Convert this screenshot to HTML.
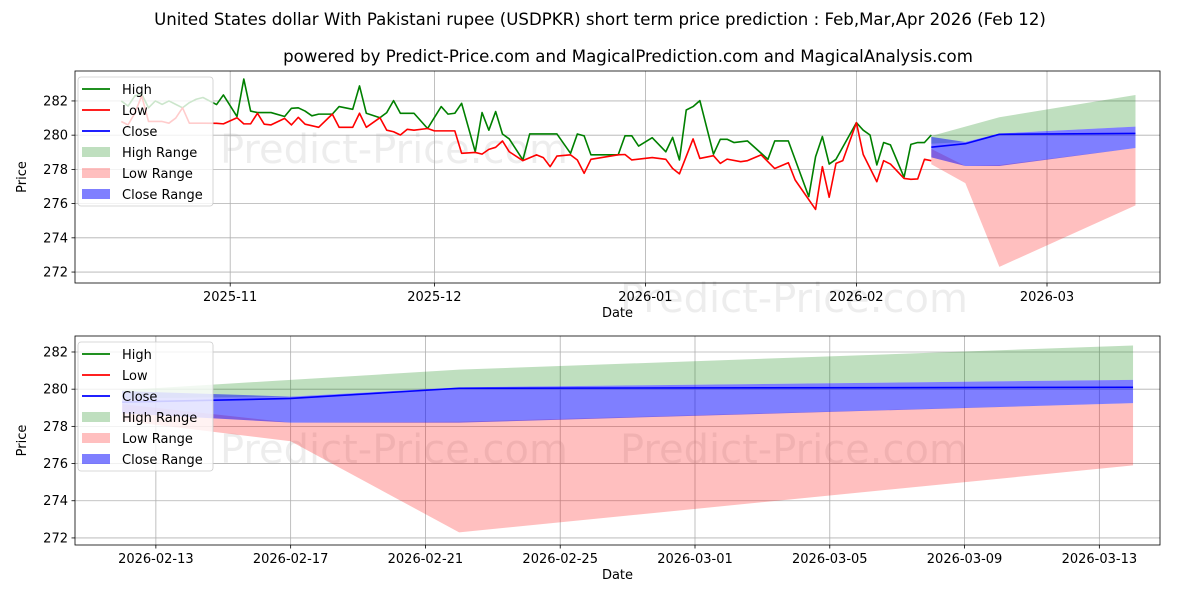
<!DOCTYPE html>
<html><head><meta charset="utf-8">
<style>
body{margin:0;background:#fff;}
svg{display:block;font-family:"DejaVu Sans","Liberation Sans",sans-serif;}
</style></head>
<body>
<svg id="chart" width="1200" height="600" viewBox="0 0 1200 600"></svg>
<script>
// Top-level data (days offset from 2025-11-01)
const highDays=[-16,-15,-14,-13,-12,-11,-10,-9,-8,-7,-6,-5,-4,-2,-1,1,2,3,4,6,8,9,10,11,12,13,15,16,18,19,20,22,23,24,25,27,29,31,32,33,34,36,37,38,39,40,41,43,44,48,50,51,52,53,57,58,59,60,62,64,65,66,67,68,69,71,72,73,74,76,79,80,82,85,86,87,88,89,92,93,94,95,96,97,99,100,101,102,103];
const highVals=[282.0,281.7,282.3,282.4,281.6,282.0,281.8,282.0,281.8,281.6,281.9,282.1,282.2,281.79,282.35,281.09,283.28,281.41,281.32,281.32,281.09,281.57,281.6,281.41,281.13,281.23,281.23,281.67,281.51,282.88,281.28,281.02,281.32,282.02,281.28,281.28,280.39,281.67,281.23,281.28,281.86,279.03,281.32,280.29,281.38,280.07,279.78,278.55,280.07,280.07,278.94,280.07,279.96,278.85,278.85,279.96,279.96,279.36,279.85,279.03,279.87,278.55,281.47,281.67,282.02,278.89,279.76,279.76,279.57,279.66,278.59,279.66,279.66,276.41,278.74,279.92,278.31,278.59,280.73,280.29,280.01,278.26,279.57,279.43,277.54,279.46,279.57,279.57,280.01];
const lowDays=[-16,-15,-14,-13,-12,-11,-10,-9,-8,-7,-6,-5,-4,-2,-1,1,2,3,4,5,6,8,9,10,11,13,15,16,18,19,20,22,23,24,25,26,27,29,30,33,34,36,37,38,39,40,41,43,45,46,47,48,50,51,52,53,57,58,59,62,64,65,66,68,69,71,72,73,75,76,78,80,82,83,86,87,88,89,90,92,93,95,96,97,99,100,101,102,103];
const lowVals=[280.8,280.6,281.3,282.3,280.8,280.8,280.8,280.7,281.0,281.6,280.7,280.7,280.7,280.69,280.66,281.02,280.66,280.66,281.28,280.64,280.6,280.98,280.6,281.04,280.64,280.46,281.23,280.46,280.46,281.28,280.46,281.02,280.29,280.2,280.01,280.34,280.29,280.39,280.25,280.25,278.94,278.99,278.89,279.17,279.29,279.66,279.03,278.51,278.85,278.69,278.16,278.78,278.85,278.55,277.77,278.59,278.85,278.87,278.55,278.69,278.59,278.05,277.74,279.78,278.64,278.8,278.35,278.6,278.45,278.51,278.85,278.05,278.39,277.38,275.66,278.16,276.37,278.35,278.51,280.73,278.87,277.28,278.51,278.31,277.47,277.42,277.44,278.59,278.51];
// Forecast (days offset: Feb12, Feb17, Feb22, Mar14)
const fcDays=[103,108,113,133];
const fcClose=[279.3,279.5,280.05,280.1];
const fcHighTop=[279.95,280.5,281.05,282.35];
const fcHighBot=[279.5,279.6,280.1,280.5];
const fcCloseTop=[279.9,279.6,280.1,280.5];
const fcCloseBot=[278.7,278.2,278.2,279.25];
const fcLowTop=[279.2,278.2,278.25,279.25];
const fcLowBot=[278.3,277.2,272.3,275.9];
const yTicks=[272,274,276,278,280,282];
const topXTickDays=[0,30,61,92,120];
const topXTickLabels=['2025-11','2025-12','2026-01','2026-02','2026-03'];
const botXTickDays=[104,108,112,116,120,124,128,132];
const botXTickLabels=['2026-02-13','2026-02-17','2026-02-21','2026-02-25','2026-03-01','2026-03-05','2026-03-09','2026-03-13'];

const NS='http://www.w3.org/2000/svg';
const svg=document.getElementById('chart');
function mk(tag,attrs,parent){const e=document.createElementNS(NS,tag);for(const k in attrs)e.setAttribute(k,attrs[k]);(parent||svg).appendChild(e);return e;}

function txt(x,y,s,size,anchor,name,extra){const t=mk('text',Object.assign({x:x,y:y,'font-size':size,'text-anchor':anchor||'middle',fill:'#000'},extra||{}));t.textContent=s;


return t;}

txt(600,25,'United States dollar With Pakistani rupee (USDPKR) short term price prediction : Feb,Mar,Apr 2026 (Feb 12)',16.6,'middle','chart-title');
txt(628,62,'powered by Predict-Price.com and MagicalPrediction.com and MagicalAnalysis.com',16.6,'middle','chart-subtitle');

function panel(cfg){
  const g=mk('g',{});
  
  
  const L=75,R=1160,T=cfg.top,B=cfg.bottom;
  const xs=d=>L+(d-cfg.d0)/(cfg.d1-cfg.d0)*(R-L);
  const ys=v=>T+(cfg.v1-v)/(cfg.v1-cfg.v0)*(B-T);
  cfg.marks.forEach(m=>{const w=txt(m[0],m[1],'Predict-Price.com',40,'start','watermark',{fill:'#000','fill-opacity':'0.07'});g.appendChild(w);});
  yTicks.forEach(v=>{const y=ys(v);const l=mk('line',{x1:L,x2:R,y1:y,y2:y,stroke:'#b0b0b0','stroke-width':0.8},g);
    
    mk('line',{x1:L-3.5,x2:L,y1:y,y2:y,stroke:'#000','stroke-width':0.8},g);
    const t=txt(L-7,y+4.5,String(v),13,'end','y-tick-label');g.appendChild(t);});
  cfg.xt.forEach((d,i)=>{const x=xs(d);const l=mk('line',{x1:x,x2:x,y1:T,y2:B,stroke:'#b0b0b0','stroke-width':0.8},g);
    
    mk('line',{x1:x,x2:x,y1:B,y2:B+3.5,stroke:'#000','stroke-width':0.8},g);
    const t=txt(x,B+18,cfg.xl[i],13,'middle','x-tick-label');g.appendChild(t);});
  const clip='clip-'+cfg.name;
  const cp=mk('clipPath',{id:clip},g);mk('rect',{x:L,y:T,width:R-L,height:B-T},cp);
  const pg=mk('g',{'clip-path':'url(#'+clip+')'},g);
  function line(days,vals,color,name){const p=mk('polyline',{points:days.map((d,i)=>xs(d)+','+ys(vals[i])).join(' '),fill:'none',stroke:color,'stroke-width':1.6,'stroke-linejoin':'round'},pg);
    }
  function band(top,bot,color,op,name){const pts=fcDays.map((d,i)=>xs(d)+','+ys(top[i])).concat(fcDays.slice().reverse().map((d,j)=>{const i=fcDays.length-1-j;return xs(d)+','+ys(bot[i]);}));
    const p=mk('polygon',{points:pts.join(' '),fill:color,'fill-opacity':op,stroke:'none'},pg);
    }
  if(cfg.history){
    line(highDays,highVals,'#008000','high-line');
    line(lowDays,lowVals,'#ff0000','low-line');
  }
  band(fcHighTop,fcHighBot,'#008000',0.25,'high-range-band');
  band(fcLowTop,fcLowBot,'#ff0000',0.25,'low-range-band');
  band(fcCloseTop,fcCloseBot,'#0000ff',0.5,'close-range-band');
  line(fcDays,fcClose,'#0000ff','close-line');
  mk('rect',{x:L,y:T,width:R-L,height:B-T,fill:'none',stroke:'#000','stroke-width':0.8},g);
  const yl=txt(0,0,'Price',13,'middle','y-axis-title',{transform:'translate(26,'+((T+B)/2)+') rotate(-90)'});g.appendChild(yl);
  const xl=txt((L+R)/2,B+34,'Date',13,'middle','x-axis-title');g.appendChild(xl);
  const lg=mk('g',{},g);
  
  const ly=cfg.top+6;
  mk('rect',{x:78,y:ly,width:135,height:129,rx:3,fill:'#fff','fill-opacity':0.8,stroke:'#ccc','stroke-width':0.8},lg);
  const items=[['High','#008000','line',1],['Low','#ff0000','line',1],['Close','#0000ff','line',1],['High Range','#008000','rect',0.25],['Low Range','#ff0000','rect',0.25],['Close Range','#0000ff','rect',0.5]];
  items.forEach((it,i)=>{const cy=ly+12+i*21;const e=mk('g',{},lg);
    
    if(it[2]==='line')mk('line',{x1:82,x2:110,y1:cy,y2:cy,stroke:it[1],'stroke-width':1.8},e);
    else mk('rect',{x:82,y:cy-5,width:28,height:10,fill:it[1],'fill-opacity':it[3]},e);
    const t=txt(122,cy+5,it[0],13,'start','legend-label');e.appendChild(t);});
}
panel({name:'top-panel',history:true,top:71,bottom:283,d0:-22.8,d1:136.6,v0:271.36,v1:283.75,xt:topXTickDays,xl:topXTickLabels,marks:[[220,163],[620,312]]});
panel({name:'bottom-panel',history:false,top:336,bottom:545,d0:101.6,d1:133.8,v0:271.62,v1:282.86,xt:botXTickDays,xl:botXTickLabels,marks:[[220,463],[620,463]]});
</script>
</body></html>
